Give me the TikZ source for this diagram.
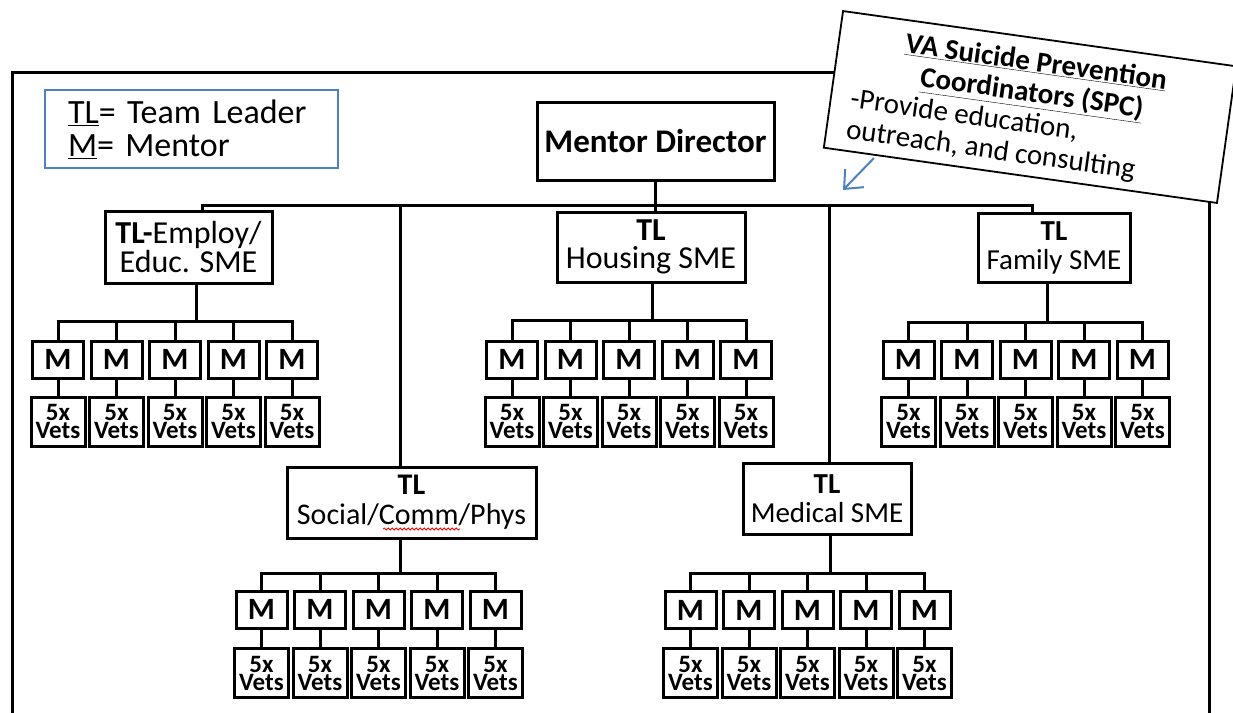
\documentclass[tikz,border=0pt]{standalone}
\usepackage{fontspec}
\setmainfont{Carlito}
\usetikzlibrary{arrows.meta,decorations.pathmorphing}
\definecolor{legblue}{RGB}{79,129,189}
\newcommand{\fsz}[2]{\fontsize{#1}{#2}\selectfont}
\begin{document}
\begin{tikzpicture}[x=1pt,y=-1pt,
  box/.style={draw, line width=3pt, fill=white, inner sep=0pt, align=center},
  mbox/.style={box, minimum width=51pt, minimum height=37pt, font=\fsz{31}{31}\bfseries},
  vbox/.style={box, minimum width=54pt, minimum height=49pt, font=\fsz{25}{18}\bfseries},
  tlbox/.style={box},
  conn/.style={line width=3pt, line join=miter},
  frame/.style={line width=3pt}]
\useasboundingbox (0,0) rectangle (1233,712);

% outer frame
\coordinate (fbl) at (12,730);
\coordinate (ftl) at (12,72);
\coordinate (ftr) at (1209,72);
\coordinate (fbr) at (1209,730);
\draw[frame] (fbl) -- (ftl) -- (ftr) -- (fbr);

% legend
\node[draw=legblue, line width=2.2pt, fill=white, minimum width=293pt, minimum height=78pt,
      text width=247pt, align=left, inner sep=0pt, font=\fsz{34}{33}] (legend) at (191.5,129)
      {\mbox{\underline{TL}= Team  Leader}\\\mbox{\underline{M}= Mentor}};

% top
\node[box, minimum width=237pt, minimum height=78pt, font=\fsz{33}{33}\bfseries] (md) at (655.5,141) {Mentor Director};

% team leader boxes
\node[tlbox, minimum width=167pt, minimum height=72pt, font=\fsz{32}{25}] (tlE) at (188.5,247) {\textbf{TL-}Employ/\\Educ. SME};
\node[tlbox, minimum width=188pt, minimum height=70pt, font=\fsz{32}{28}] (tlH) at (651,247) {\textbf{TL}\\Housing SME};
\node[tlbox, minimum width=152pt, minimum height=69pt, font=\fsz{29}{29}] (tlF) at (1054,247.5) {\textbf{TL}\\Family SME};
\node[tlbox, minimum width=249pt, minimum height=71pt, font=\fsz{30}{30}] (tlS) at (411.5,502.5) {\textbf{TL}\\Social/Comm/Phys};
\node[tlbox, minimum width=168pt, minimum height=71pt, font=\fsz{29}{29}] (tlM) at (827,498.5) {\textbf{TL}\\Medical SME};

% spell-check underline
\coordinate (wvA) at (383,529);
\coordinate (wvB) at (460,529);
\draw[red, line width=0.8pt, decorate, decoration={snake, amplitude=1pt, segment length=4pt}] (wvA) -- (wvB);

% top bar
\coordinate (topL) at (202,205);
\coordinate (topR) at (1032,205);
\coordinate (dropS) at (400,205);
\coordinate (dropM) at (829,205);
\draw[conn] (md.south) -- (md.south |- topL);
\draw[conn] (topL |- tlE.north) -- (topL) -- (topR) -- (topR |- tlF.north);
\draw[conn] (md.south |- topL) -- (md.south |- tlH.north);
\draw[conn] (dropS) -- (dropS |- tlS.north);
\draw[conn] (dropM) -- (dropM |- tlM.north);

% mentor groups
\newcommand{\mgroup}[7]{%
  % #1 prefix, #2 first x, #3 M y, #4 vets y, #5 bar x, #6 bar y, #7 TL node
  \coordinate (#1bar) at (#5,#6);
  \foreach \i in {1,...,5}{
    \node[mbox] (#1m\i) at ({#2+58.5*(\i-1)},#3) {M};
    \node[vbox] (#1v\i) at ({#2+58.5*(\i-1)},#4) {5x\\Vets};
    \draw[conn] (#1m\i) -- (#1v\i);
  }
  \draw[conn] (#1m1.north) -- (#1m1.north |- #1bar) -- (#1m5.north |- #1bar) -- (#1m5.north);
  \foreach \i in {2,3,4}{
    \draw[conn] (#1m\i.north |- #1bar) -- (#1m\i.north);
  }
  \draw[conn] (#1bar |- #7.south) -- (#1bar);
}
\mgroup{E}{58}{359.5}{421.5}{196}{321}{tlE}
\mgroup{H}{512}{359.5}{421.5}{652}{320}{tlH}
\mgroup{F}{908.5}{359.5}{421.5}{1047}{322}{tlF}
\mgroup{S}{261.5}{609.5}{673}{400}{573}{tlS}
\mgroup{M}{690.5}{610}{673}{830}{573}{tlM}

% SPC callout
\node[draw, fill=white, line width=1.8pt, rotate=-8, minimum width=397pt, minimum height=138pt,
      inner sep=0pt] (spc) at (1030,107)
  {\parbox{357pt}{\fsz{29}{31}\vspace*{5pt}\centering\bfseries\underline{VA Suicide Prevention}\par
   \underline{Coordinators (SPC)}\par
   \raggedright\mdseries -Provide education,\par
   outreach, and consulting\par}};

\coordinate (arrS) at (874,158);
\coordinate (arrT) at (843,190);
\draw[legblue, line width=2pt, -{Straight Barb[length=15pt,width=26pt]}] (arrS) -- (arrT);
\end{tikzpicture}
\end{document}
